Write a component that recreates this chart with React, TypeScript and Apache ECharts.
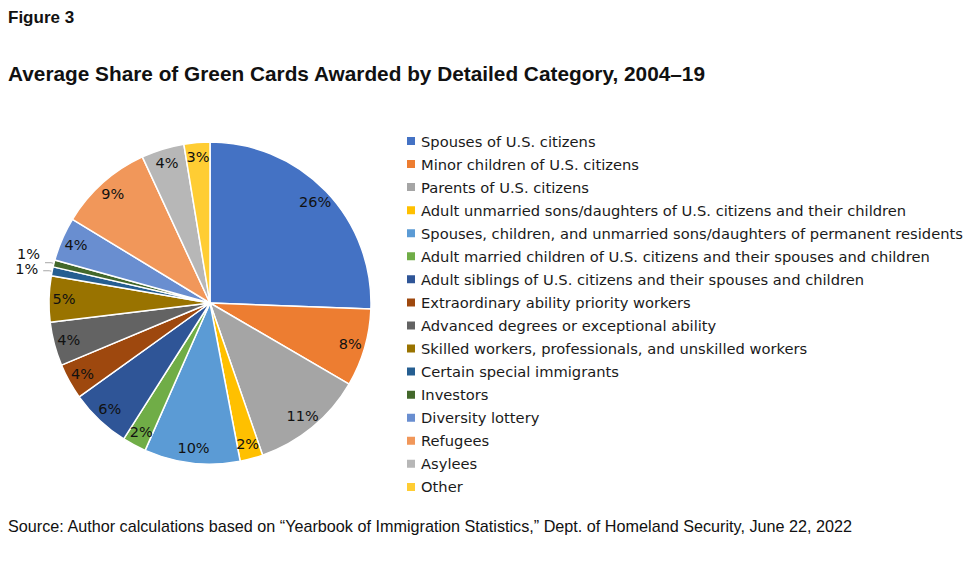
import React, { useEffect, useRef } from "react";
import * as echarts from "echarts";

const categories = [
  "Spouses of U.S. citizens",
  "Minor children of U.S. citizens",
  "Parents of U.S. citizens",
  "Adult unmarried sons/daughters of U.S. citizens and their children",
  "Spouses, children, and unmarried sons/daughters of permanent residents",
  "Adult married children of U.S. citizens and their spouses and children",
  "Adult siblings of U.S. citizens and their spouses and children",
  "Extraordinary ability priority workers",
  "Advanced degrees or exceptional ability",
  "Skilled workers, professionals, and unskilled workers",
  "Certain special immigrants",
  "Investors",
  "Diversity lottery",
  "Refugees",
  "Asylees",
  "Other",
];

const shares = [25.6, 7.8, 11.3, 2.3, 9.6, 2.4, 6.1, 3.6, 4.4, 4.6, 0.9, 0.7, 4.4, 9.4, 4.3, 2.6];

const colors = [
  "#4472C4", "#ED7D31", "#A5A5A5", "#FFC000", "#5B9BD5", "#70AD47",
  "#2F5597", "#9E480E", "#636363", "#997300", "#255E91", "#43682B",
  "#698ED0", "#F1975A", "#B7B7B7", "#FFCD33",
];

const figureLabel = "Figure 3";
const titleText = "Average Share of Green Cards Awarded by Detailed Category, 2004\u201319";
const sourceText =
  "Source: Author calculations based on \u201cYearbook of Immigration Statistics,\u201d Dept. of Homeland Security, June 22, 2022";

export default function App() {
  const ref = useRef<HTMLDivElement>(null);
  useEffect(() => {
    document.body.style.margin = "0";
    const chart = echarts.init(ref.current!, null, { renderer: "svg" });
    const font = "'Liberation Sans', Arial, Helvetica, sans-serif";
    const wideFont = "'DejaVu Sans', 'Liberation Sans', Arial, sans-serif";
    const data = categories.map((name, i) => ({ name, value: shares[i] }));
    const labelData = categories.map((name, i) => {
      const small = shares[i] < 1;
      const item: any = { name, value: shares[i] };
      if (small) {
        item.label = { position: "outside" };
        item.labelLine = { show: true };
      }
      return item;
    });
    chart.setOption({
      animation: false,
      color: colors,
      title: [
        {
          text: figureLabel,
          left: 8,
          top: 9,
          padding: 0,
          textStyle: { fontFamily: font, fontSize: 17, fontWeight: "bold", color: "#111" },
        },
        {
          text: titleText,
          left: 8,
          top: 63,
          padding: 0,
          textStyle: { fontFamily: font, fontSize: 20.8, fontWeight: "bold", color: "#111" },
        },
        {
          text: sourceText,
          left: 8,
          top: 518,
          padding: 0,
          textStyle: { fontFamily: font, fontSize: 16.2, fontWeight: "normal", color: "#111" },
        },
      ],
      legend: {
        orient: "vertical",
        left: 405,
        top: 132,
        padding: 0,
        itemWidth: 10,
        itemHeight: 10,
        itemGap: 5.06,
        icon: "rect",
        selectedMode: false,
        data: categories,
        textStyle: { fontFamily: wideFont, fontSize: 14.7, lineHeight: 18, color: "#1a1a1a" },
      },
      series: [
        {
          type: "pie",
          center: [210, 303],
          radius: [0, 161],
          startAngle: 90,
          clockwise: true,
          silent: true,
          label: { show: false },
          labelLine: { show: false },
          itemStyle: { borderColor: "#ffffff", borderWidth: 1.5 },
          data,
        },
        {
          type: "pie",
          center: [210, 303],
          radius: [125, 161],
          startAngle: 90,
          clockwise: true,
          silent: true,
          legendHoverLink: false,
          avoidLabelOverlap: false,
          itemStyle: { color: "rgba(0,0,0,0)", borderWidth: 0 },
          label: {
            show: true,
            position: "inside",
            formatter: (p: any) => Math.round(p.value) + "%",
            fontFamily: wideFont,
            fontSize: 14.5,
            color: "#111",
          },
          labelLine: {
            show: false,
            length: 3,
            length2: 6,
            lineStyle: { color: "#a6a6a6", width: 1 },
          },
          labelLayout: (p: any) => {
            if (p.dataIndex === 11) return { dy: -9 };
            if (p.dataIndex === 10) return { dy: -2 };
            return {};
          },
          data: labelData,
        },
      ],
    });
    return () => chart.dispose();
  }, []);
  return <div ref={ref} style={{ width: 971, height: 563 }} />;
}
